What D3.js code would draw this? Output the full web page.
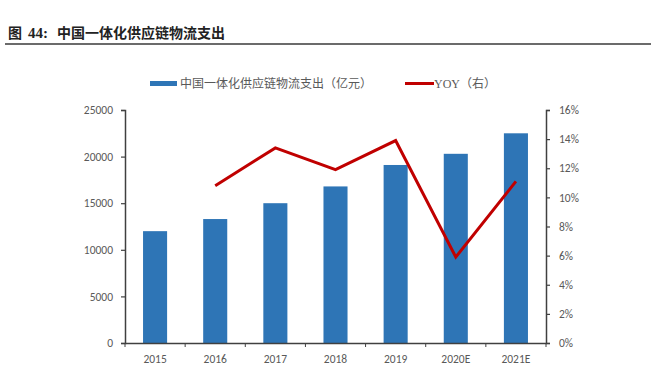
<!DOCTYPE html>
<html>
<head>
<meta charset="utf-8">
<script src="https://cdn.jsdelivr.net/npm/d3@7"></script>
<style>
  body { margin: 0; background: #fff; }
  svg { display: block; }
</style>
</head>
<body>
<div id="chart"></div>
<script>
const width = 651
const height = 376
const margin = ({ top: 110, right: 105, bottom: 33, left: 125 })

const years = ['2015', '2016', '2017', '2018', '2019', '2020E', '2021E']
const spending = [12000, 13300, 15000, 16800, 19100, 20300, 22500]
const yoy = [null, 10.8, 13.4, 11.9, 13.9, 5.9, 11.1]
const leftTicks = [0, 5000, 10000, 15000, 20000, 25000]
const rightTicks = [0, 2, 4, 6, 8, 10, 12, 14, 16]

const barColor = '#2e75b6'
const lineColor = '#c00000'
const textColor = '#595959'
const axisColor = '#404040'

const svg = d3.select('#chart').append('svg')
    .attr('width', width)
    .attr('height', height)

// title, pieces placed like the report layout
const title = svg.append('text')
    .attr('y', 38)
    .attr('font-family', '"Noto Sans CJK SC", sans-serif')
    .attr('font-size', 14)
    .attr('font-weight', 700)
    .attr('fill', '#222')
title.append('tspan').attr('x', 8).text('图')
title.append('tspan').attr('x', 28).attr('font-family', '"Liberation Serif", serif').attr('font-size', 15).text('44:')
title.append('tspan').attr('x', 57).text('中国一体化供应链物流支出')

svg.append('line')
    .attr('x1', 5).attr('x2', width)
    .attr('y1', 44).attr('y2', 44)
    .attr('stroke', '#6b6b6b')
    .attr('stroke-width', 2)

let xScale = d3.scaleBand()
    .domain(years)
    .range([margin.left, width - margin.right])
    .paddingInner(0.6)
    .paddingOuter(0.3)

let yLeft = d3.scaleLinear()
    .domain([0, 25000])
    .range([height - margin.bottom, margin.top])

let yRight = d3.scaleLinear()
    .domain([0, 16])
    .range([height - margin.bottom, margin.top])

// bars
svg.append('g')
    .selectAll('rect')
    .data(years)
    .enter().append('rect')
    .attr('x', d => xScale(d))
    .attr('width', xScale.bandwidth())
    .attr('y', (d, i) => yLeft(spending[i]))
    .attr('height', (d, i) => yLeft(0) - yLeft(spending[i]))
    .attr('fill', barColor)

// axes
const tickFont = 'Calibri, "Liberation Sans", "DejaVu Sans", sans-serif'

const leftAxis = svg.append('g')
    .attr('transform', 'translate(' + margin.left + ',0)')
    .call(d3.axisLeft(yLeft).tickValues(leftTicks).tickSize(4).tickPadding(8).tickFormat(d3.format('d')))

const rightAxis = svg.append('g')
    .attr('transform', 'translate(' + (width - margin.right) + ',0)')
    .call(d3.axisRight(yRight).tickValues(rightTicks).tickSize(4).tickPadding(9).tickFormat(d => d + '%'))

const xAxis = svg.append('g')
    .attr('transform', 'translate(0,' + (height - margin.bottom) + ')')
    .call(d3.axisBottom(xScale).tickSize(0).tickPadding(12))

// category boundary ticks on the x axis
const step = xScale.step()
xAxis.selectAll('.boundary')
    .data(d3.range(years.length + 1))
    .enter().append('line')
    .attr('class', 'boundary')
    .attr('x1', i => margin.left + i * step)
    .attr('x2', i => margin.left + i * step)
    .attr('y1', 0).attr('y2', 4)
    .attr('stroke', axisColor)

for (const ax of [leftAxis, rightAxis, xAxis]) {
  ax.select('.domain').attr('stroke', axisColor).attr('stroke-width', 1.5)
  ax.selectAll('.tick line').attr('stroke', axisColor).attr('stroke-width', 1.2)
  ax.selectAll('.tick text')
    .attr('fill', textColor)
    .attr('font-family', tickFont)
    .attr('font-size', 11.5)
}

// yoy line
const lineGen = d3.line()
    .defined(d => d.v != null)
    .x(d => xScale(d.year) + xScale.bandwidth() / 2)
    .y(d => yRight(d.v))

svg.append('path')
    .datum(years.map((y, i) => ({ year: y, v: yoy[i] })))
    .attr('d', lineGen)
    .attr('fill', 'none')
    .attr('stroke', lineColor)
    .attr('stroke-width', 3)
    .attr('stroke-linejoin', 'miter')

// legend
const legend = svg.append('g')
legend.append('rect')
    .attr('x', 150).attr('y', 81)
    .attr('width', 27).attr('height', 5)
    .attr('fill', barColor)
legend.append('text')
    .attr('x', 180).attr('y', 88)
    .attr('font-family', '"Noto Sans CJK SC", sans-serif')
    .attr('font-size', 12)
    .attr('fill', textColor)
    .text('中国一体化供应链物流支出（亿元）')
legend.append('line')
    .attr('x1', 405).attr('x2', 434)
    .attr('y1', 83.5).attr('y2', 83.5)
    .attr('stroke', lineColor)
    .attr('stroke-width', 3)
const yoyText = legend.append('text')
    .attr('x', 434).attr('y', 88)
    .attr('font-size', 12)
    .attr('fill', textColor)
yoyText.append('tspan')
    .attr('font-family', '"Liberation Serif", serif')
    .text('YOY')
yoyText.append('tspan')
    .attr('font-family', '"Noto Sans CJK SC", sans-serif')
    .text('（右）')
</script>
</body>
</html>
